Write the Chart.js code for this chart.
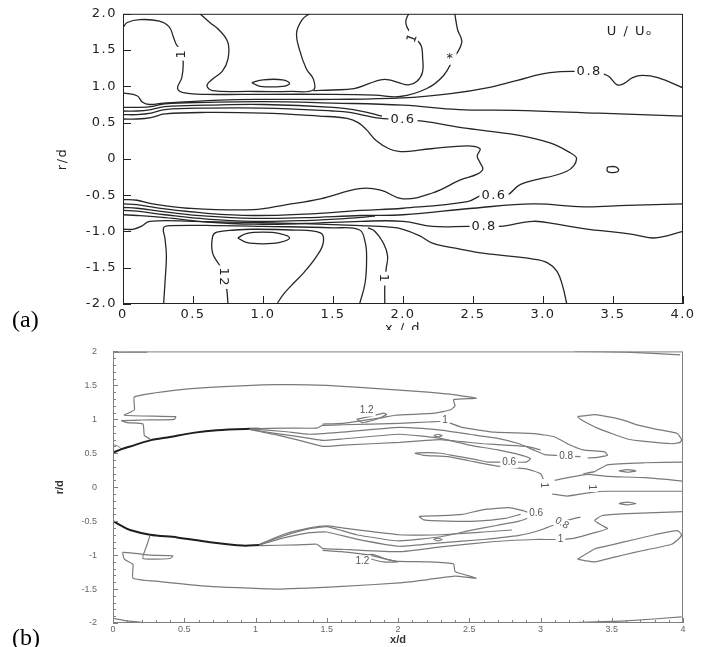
<!DOCTYPE html>
<html>
<head>
<meta charset="utf-8" />
<title>U/Uo contours</title>
<style>
  html, body { margin: 0; padding: 0; background: #fff; }
  #page { position: relative; width: 706px; height: 647px; overflow: hidden; }
  canvas { position: absolute; left: 0; }
  #chartA { top: 0; }
  #chartB { top: 330px; }
  .tag { position: absolute; left: 12px; font-family: "Liberation Serif", serif; font-size: 24px; line-height: 24px; color: #000; }
</style>
</head>
<body>
<div id="page">
  <canvas id="chartA" width="706" height="330"></canvas>
  <canvas id="chartB" width="706" height="317"></canvas>
  <div class="tag" style="top:307px">(a)</div>
  <div class="tag" style="top:625px">(b)</div>
</div>

<script src="https://cdn.jsdelivr.net/npm/chart.js"></script>
<script>
// ---- panel (a): measured U/Uo contours, points are [x/d, r/d]
const aOneUpper = [[0,1.81],[0.03,1.88],[0.12,1.92],[0.26,1.9],[0.33,1.82],[0.36,1.68],[0.38,1.58],[0.42,1.47],[0.43,1.3],[0.42,1.12],[0.39,0.97],[0.44,0.91],[0.6,0.89],[1.0,0.89],[1.5,0.89],[1.8,0.88],[1.98,0.86],[2.17,0.97],[2.29,1.15],[2.36,1.38],[2.42,1.61],[2.39,1.78],[2.37,2.0]];
const aOneRight = [[2.04,2.0],[2.02,1.9],[2.03,1.81],[2.08,1.68],[2.13,1.56],[2.14,1.4],[2.14,1.2],[2.1,1.07],[2.04,1.02],[1.97,1.05],[1.9,1.09],[1.84,1.09],[1.76,1.04],[1.65,0.97],[1.5,0.95],[1.36,0.94]];
const aTwelveUpper = [[0.55,2.0],[0.62,1.88],[0.69,1.77],[0.75,1.6],[0.75,1.38],[0.71,1.21],[0.64,1.1],[0.6,1.01],[0.64,0.94],[0.9,0.93],[1.2,0.93],[1.36,0.95],[1.36,1.1],[1.31,1.24],[1.26,1.51],[1.24,1.74],[1.28,1.92],[1.33,2.0]];
const aLoopUpper = [[0.92,1.05],[1.0,1.09],[1.14,1.09],[1.19,1.04],[1.14,1.0],[0.98,1.0],[0.92,1.05]];
const aLineA = [[0,0.91],[0.1,0.87],[0.14,0.78],[0.19,0.75],[0.29,0.77],[0.69,0.81],[1.0,0.82],[1.5,0.82],[2.0,0.84],[2.34,0.9],[2.6,0.98],[2.81,1.08],[3.05,1.19],[3.33,1.2],[3.46,1.15],[3.53,1.02],[3.58,1.04],[3.64,1.12],[3.71,1.15],[3.82,1.12],[4.0,0.98]];
const aLineB = [[0,0.71],[0.1,0.71],[0.2,0.72],[0.3,0.76],[0.6,0.78],[1.0,0.79],[1.5,0.77],[2.0,0.74],[2.4,0.68],[2.8,0.67],[3.4,0.63],[4.0,0.59]];
const aLineB2 = [[0,0.66],[0.1,0.66],[0.2,0.68],[0.3,0.72],[0.6,0.74],[1.0,0.75],[1.5,0.71],[1.7,0.66],[1.85,0.59]];
const aLineC = [[0,0.61],[0.1,0.61],[0.2,0.63],[0.3,0.68],[0.6,0.7],[1.0,0.7],[1.5,0.66],[1.62,0.64],[1.8,0.57],[2.0,0.54],[2.14,0.52],[2.46,0.42],[2.81,0.33],[3.05,0.22],[3.18,0.1],[3.24,0.0],[3.17,-0.17],[2.84,-0.35],[2.74,-0.5],[2.57,-0.5],[2.46,-0.59],[2.0,-0.68],[1.7,-0.71],[1.3,-0.76],[0.93,-0.78],[0.6,-0.75],[0.3,-0.69],[0.1,-0.63],[0,-0.62]];
const aInner = [[0,0.55],[0.1,0.55],[0.2,0.57],[0.3,0.62],[0.6,0.64],[1.0,0.63],[1.4,0.59],[1.6,0.56],[1.68,0.5],[1.74,0.4],[1.81,0.25],[1.9,0.14],[1.98,0.1],[2.2,0.14],[2.46,0.18],[2.55,0.14],[2.53,0.04],[2.55,-0.05],[2.57,-0.14],[2.53,-0.21],[2.41,-0.29],[2.21,-0.47],[2.0,-0.55],[1.84,-0.43],[1.69,-0.41],[1.41,-0.55],[1.17,-0.63],[0.93,-0.7],[0.46,-0.68],[0.21,-0.62],[0.1,-0.57],[0,-0.56]];
const aLineBLow = [[0,-0.67],[0.1,-0.68],[0.3,-0.73],[0.6,-0.79],[0.93,-0.82],[1.3,-0.81],[1.7,-0.78],[2.0,-0.77],[2.5,-0.68],[2.93,-0.62],[3.29,-0.66],[3.6,-0.64],[4.0,-0.62]];
const aLineB2Low = [[0,-0.71],[0.1,-0.72],[0.3,-0.77],[0.6,-0.83],[0.93,-0.86],[1.3,-0.85],[1.6,-0.82],[1.8,-0.79]];
const aLineALow = [[0,-0.77],[0.1,-0.78],[0.3,-0.81],[0.6,-0.87],[0.93,-0.9],[1.3,-0.89],[1.7,-0.86],[2.0,-0.86],[2.21,-0.93],[2.46,-0.93],[2.69,-0.93],[2.93,-0.86],[3.1,-0.9],[3.29,-0.96],[3.64,-1.04],[3.79,-1.09],[4.0,-1.0]];
const aLineD = [[0,-0.97],[0.07,-0.97],[0.13,-0.93],[0.19,-0.86],[0.5,-0.86],[1.0,-0.88],[1.4,-0.9],[1.7,-0.92],[1.9,-0.94],[2.0,-0.97],[2.12,-1.06],[2.21,-1.16],[2.4,-1.24],[2.57,-1.3],[2.93,-1.38],[3.03,-1.43],[3.1,-1.55],[3.14,-1.75],[3.17,-2.0]];
const aOneLower = [[0.29,-2.0],[0.3,-1.7],[0.31,-1.34],[0.3,-1.1],[0.29,-0.95],[0.34,-0.92],[0.7,-0.92],[1.0,-0.93],[1.5,-0.95],[1.69,-0.98],[1.73,-1.15],[1.74,-1.34],[1.73,-1.7],[1.69,-2.0]];
const aOneLower2 = [[1.75,-0.95],[1.8,-1.0],[1.86,-1.16],[1.89,-1.34],[1.88,-1.51],[1.87,-1.75],[1.87,-2.0]];
const aTwelveLower = [[0.75,-2.0],[0.74,-1.78],[0.72,-1.63],[0.69,-1.47],[0.64,-1.3],[0.64,-1.07],[0.67,-1.01],[0.8,-0.98],[0.93,-0.97],[1.2,-0.98],[1.41,-1.02],[1.43,-1.16],[1.38,-1.35],[1.29,-1.57],[1.2,-1.75],[1.14,-1.88],[1.1,-2.0]];
const aLoopLower = [[0.82,-1.09],[0.88,-1.03],[1.0,-1.01],[1.12,-1.03],[1.19,-1.09],[1.12,-1.15],[1.0,-1.17],[0.88,-1.15],[0.82,-1.09]];
const aSpot = [[3.46,-0.11],[3.52,-0.11],[3.54,-0.16],[3.5,-0.19],[3.46,-0.17],[3.46,-0.11]];

const aLabelText = ['1', '1', '*', '0.8', '0.6', '0.6', '0.8', '12', '1', 'U / Uₒ'];
const aLabelX = [0.42, 2.07, 2.34, 3.33, 2.0, 2.65, 2.58, 0.72, 1.86, 3.62];
const aLabelY = [1.45, 1.67, 1.38, 1.2, 0.54, -0.5, -0.93, -1.63, -1.65, 1.76];
const aLabelRot = [-90, -70, 0, 0, 0, 0, 0, 90, 90, 0];

const aTicksX = ['0', '0.5', '1.0', '1.5', '2.0', '2.5', '3.0', '3.5', '4.0'];
const aTicksY = ['-2.0', '-1.5', '-1.0', '-0.5', '0', '0.5', '1.0', '1.5', '2.0'];

// ---- panel (b)
const bCornerTL = [[0,1.985],[0.12,1.99],[0.24,1.99]];
const bCornerTR = [[3.24,2.0],[3.6,1.99],[3.98,1.95]];
const bCornerBL = [[0,-1.93],[0.1,-1.97],[0.21,-1.99]];
const bCornerBR = [[3.26,-1.99],[3.6,-1.97],[3.99,-1.91]];
const bOuterUp = [[0.26,0.71],[0.22,0.76],[0.21,0.93],[0.1,0.95],[0.06,0.98],[0.2,0.99],[0.43,1.0],[0.44,1.04],[0.08,1.06],[0.15,1.14],[0.15,1.33],[0.4,1.42],[0.68,1.47],[1.15,1.51],[1.5,1.5],[2.01,1.43],[2.21,1.4],[2.4,1.36],[2.55,1.31],[2.39,1.29],[2.4,1.2],[2.37,1.14],[2.26,1.09],[1.98,1.06],[1.88,1.02],[1.71,0.97],[1.61,0.94],[1.47,0.93]];
const bOuterLo = [[0.26,-0.71],[0.24,-0.84],[0.21,-1.05],[0.4,-1.05],[0.42,-1.01],[0.26,-1.0],[0.07,-0.96],[0.08,-1.06],[0.14,-1.14],[0.14,-1.34],[0.33,-1.39],[0.68,-1.46],[1.15,-1.5],[1.61,-1.46],[2.01,-1.41],[2.21,-1.36],[2.4,-1.31],[2.55,-1.34],[2.4,-1.24],[2.39,-1.13],[2.21,-1.1],[1.98,-1.09],[1.8,-1.0],[1.6,-0.95],[1.47,-0.93]];
const bLoop12Up = [[1.71,1.0],[1.75,0.95],[1.85,1.0],[1.92,1.07],[1.9,1.09],[1.8,1.04],[1.71,1.0]];
const bLoop12Lo = [[1.75,-1.0],[1.82,-0.99],[1.92,-1.06],[2.0,-1.1],[1.9,-1.1],[1.8,-1.05],[1.75,-1.0]];
const bS1Up = [[0.96,0.86],[1.24,0.87],[1.43,0.87],[1.47,0.91],[1.61,0.92],[2.01,0.94],[2.21,0.96],[2.33,0.97],[2.45,0.88],[2.68,0.81],[2.96,0.79],[3.1,0.74],[3.2,0.63],[3.3,0.55],[3.45,0.52],[3.47,0.47],[3.4,0.44],[3.33,0.43]];
const bS2Up = [[0.96,0.86],[1.2,0.82],[1.38,0.78],[1.6,0.81],[2.01,0.88],[2.3,0.84],[2.5,0.78],[2.7,0.72],[2.85,0.64],[2.95,0.55],[3.03,0.48],[3.18,0.46],[3.28,0.45]];
const bS3Up = [[0.96,0.85],[1.15,0.79],[1.38,0.72],[1.47,0.69],[1.61,0.71],[2.01,0.78],[2.3,0.72],[2.5,0.62],[2.7,0.55],[2.85,0.48],[2.93,0.42],[2.9,0.37],[2.78,0.37],[2.63,0.37],[2.54,0.41],[2.4,0.46],[2.3,0.5],[2.2,0.51],[2.12,0.5],[2.18,0.47],[2.35,0.45],[2.5,0.39],[2.7,0.31],[2.9,0.27],[3.0,0.2],[3.02,0.12]];
const bS4Up = [[0.96,0.85],[1.15,0.77],[1.38,0.65],[1.47,0.6],[1.61,0.62],[2.01,0.66],[2.2,0.69],[2.3,0.7],[2.45,0.67],[2.6,0.64],[2.75,0.62],[2.9,0.6],[3.0,0.55]];
const bS1Lo = [[1.03,-0.86],[1.3,-0.85],[1.43,-0.84],[1.47,-0.9],[1.66,-0.92],[2.01,-0.95],[2.3,-0.88],[2.68,-0.8],[2.96,-0.77],[3.14,-0.77],[3.24,-0.75],[3.38,-0.67],[3.47,-0.61],[3.43,-0.56],[3.38,-0.49],[3.43,-0.42],[3.61,-0.39],[4.0,-0.36]];
const bS2Lo = [[1.03,-0.85],[1.19,-0.75],[1.38,-0.67],[1.5,-0.66],[1.7,-0.76],[2.01,-0.87],[2.3,-0.82],[2.6,-0.77],[2.85,-0.71],[3.0,-0.63],[3.1,-0.55],[3.2,-0.48],[3.28,-0.44]];
const bS3Lo = [[1.03,-0.84],[1.19,-0.72],[1.38,-0.61],[1.5,-0.58],[1.61,-0.64],[1.71,-0.7],[2.01,-0.79],[2.3,-0.73],[2.5,-0.64],[2.7,-0.56],[2.85,-0.5],[2.95,-0.42],[2.9,-0.36],[2.78,-0.3],[2.6,-0.33],[2.45,-0.4],[2.3,-0.42],[2.15,-0.43],[2.18,-0.48],[2.35,-0.5],[2.55,-0.5],[2.75,-0.46],[2.86,-0.4]];
const bS4Lo = [[1.03,-0.84],[1.19,-0.7],[1.38,-0.6],[1.5,-0.57],[1.61,-0.6],[2.01,-0.7],[2.3,-0.7],[2.6,-0.66],[2.8,-0.63]];
const bCircUp = [[2.25,0.76],[2.28,0.78],[2.31,0.76],[2.28,0.74],[2.25,0.76]];
const bCircLo = [[2.25,-0.77],[2.28,-0.75],[2.31,-0.77],[2.28,-0.79],[2.25,-0.77]];
const bIslandUp = [[3.26,1.04],[3.38,1.07],[3.52,1.02],[3.61,0.97],[3.66,0.93],[3.8,0.86],[3.96,0.79],[3.99,0.7],[3.98,0.66],[3.92,0.64],[3.75,0.67],[3.61,0.71],[3.4,0.87],[3.28,1.0],[3.26,1.04]];
const bIslandLo = [[3.26,-1.06],[3.38,-0.91],[3.5,-0.85],[3.66,-0.77],[3.8,-0.7],[3.96,-0.64],[3.99,-0.7],[3.97,-0.76],[3.92,-0.84],[3.75,-0.92],[3.66,-0.96],[3.52,-1.03],[3.38,-1.1],[3.26,-1.06]];
const bEllUp = [[3.55,0.24],[3.61,0.26],[3.67,0.24],[3.61,0.22],[3.55,0.24]];
const bEllLo = [[3.55,-0.24],[3.61,-0.22],[3.67,-0.24],[3.61,-0.26],[3.55,-0.24]];
const bRightUp1 = [[4.0,0.37],[3.73,0.36],[3.47,0.33],[3.38,0.23],[3.3,0.2]];
const bRightUp2 = [[4.0,0.09],[3.73,0.14],[3.47,0.16],[3.33,0.19],[3.19,0.14],[3.1,0.1]];
const bRightLo2 = [[3.08,-0.1],[3.19,-0.13],[3.38,-0.07],[3.47,-0.06],[3.73,-0.06],[4.0,-0.06]];
const bLipUp = [[0,0.51],[0.06,0.56],[0.12,0.6],[0.26,0.69],[0.4,0.74],[0.56,0.8],[0.73,0.84],[0.96,0.86],[1.03,0.86]];
const bLipLo = [[0,-0.5],[0.06,-0.57],[0.12,-0.63],[0.26,-0.7],[0.45,-0.74],[0.68,-0.81],[0.91,-0.86],[1.03,-0.85]];
const bNick = [[0,0.63],[0.04,0.6],[0.06,0.56]];

const bLabelText = ['1.2', '1', '0.8', '0.6', '1', '1', '1.2', '0.6', '0.8', '1'];
const bLabelX = [1.78, 2.33, 3.18, 2.78, 3.02, 3.36, 1.75, 2.97, 3.15, 3.14];
const bLabelY = [1.13, 0.98, 0.46, 0.37, 0.03, 0.0, -1.09, -0.39, -0.53, -0.77];
const bLabelRot = [0, 0, 0, 0, 90, 90, 0, 0, 30, 0];

const bTicksX = ['0', '0.5', '1', '1.5', '2', '2.5', '3', '3.5', '4'];
const bTicksY = ['-2', '-1.5', '-1', '-0.5', '0', '0.5', '1', '1.5', '2'];

// ---- helpers
function line(points, color, width, tension) {
  return {
    data: points.map(p => ({ x: p[0], y: p[1] })),
    showLine: true, fill: false, pointRadius: 0,
    borderColor: color, borderWidth: width, tension: tension
  };
}

function onHalf(v) { return Math.abs(v * 2 - Math.round(v * 2)) < 1e-6; }

// frame round the plot area plus ticks pointing inwards
function frameTicks(color, major, minor) {
  return {
    id: 'frameTicks',
    afterDraw(chart) {
      const { ctx, chartArea: a, scales: { x, y } } = chart;
      ctx.save();
      ctx.strokeStyle = color;
      ctx.lineWidth = 1;
      ctx.strokeRect(a.left + 0.5, a.top + 0.5, a.right - a.left - 1, a.bottom - a.top - 1);
      x.ticks.forEach(t => {
        const px = Math.round(x.getPixelForValue(t.value)) + 0.5;
        const len = t.label ? major : minor;
        ctx.beginPath(); ctx.moveTo(px, a.bottom); ctx.lineTo(px, a.bottom - len); ctx.stroke();
      });
      y.ticks.forEach(t => {
        const py = Math.round(y.getPixelForValue(t.value)) + 0.5;
        const len = t.label ? major : minor;
        ctx.beginPath(); ctx.moveTo(a.left, py); ctx.lineTo(a.left + len, py); ctx.stroke();
      });
      ctx.restore();
    }
  };
}

// contour level labels, white box breaks the line under them
function contourLabels(texts, xs, ys, rots, font, color) {
  return {
    id: 'contourLabels',
    afterDatasetsDraw(chart) {
      const { ctx, scales: { x, y } } = chart;
      ctx.save();
      ctx.font = font;
      ctx.textAlign = 'center';
      ctx.textBaseline = 'middle';
      texts.forEach((s, i) => {
        const px = x.getPixelForValue(xs[i]);
        const py = y.getPixelForValue(ys[i]);
        ctx.save();
        ctx.translate(px, py);
        ctx.rotate(rots[i] * Math.PI / 180);
        const w = ctx.measureText(s).width;
        if (!s.startsWith('U')) {
          ctx.fillStyle = '#fff';
          ctx.fillRect(-w / 2 - 2, -6, w + 4, 12);
        }
        ctx.fillStyle = color;
        ctx.fillText(s, 0, 0);
        ctx.restore();
      });
      ctx.restore();
    }
  };
}

const wideText = {
  id: 'wideText',
  beforeDraw(chart) { chart.ctx.letterSpacing = '1.5px'; }
};

// ---- chart (a)
const aFont = { family: 'DejaVu Sans', size: 13 };
const aLines = [aOneUpper, aOneRight, aTwelveUpper, aLoopUpper, aLineA, aLineB, aLineB2, aLineC, aInner,
  aLineBLow, aLineB2Low, aLineALow, aLineD, aOneLower, aOneLower2, aTwelveLower, aLoopLower, aSpot];

new Chart(document.getElementById('chartA'), {
  type: 'scatter',
  data: { datasets: aLines.map(p => line(p, '#262626', 1.3, 0.4)) },
  options: {
    responsive: false, animation: false, events: [],
    layout: { padding: { left: 0, right: 23, top: 9, bottom: 0 } },
    plugins: { legend: { display: false }, tooltip: { enabled: false } },
    scales: {
      x: {
        type: 'linear', min: 0, max: 4,
        afterFit: s => { s.height = 26; },
        grid: { display: false, drawTicks: false }, border: { display: false },
        ticks: {
          stepSize: 0.5, autoSkip: false, maxRotation: 0, padding: 3, color: '#222', font: aFont,
          callback: v => onHalf(v) ? aTicksX[Math.round(v * 2)] : ''
        },
        title: { display: true, text: 'x / d', color: '#222', font: aFont, padding: { top: 0, bottom: -6 } }
      },
      y: {
        type: 'linear', min: -2, max: 2,
        afterFit: s => { s.width = 123; },
        grid: { display: false, drawTicks: false }, border: { display: false },
        ticks: {
          stepSize: 0.5, autoSkip: false, padding: 6, color: '#222', font: aFont,
          callback: v => onHalf(v) ? aTicksY[Math.round((v + 2) * 2)] : ''
        },
        title: { display: true, text: 'r/d', color: '#222', font: aFont, padding: { top: 55, bottom: 0 } }
      }
    }
  },
  plugins: [wideText, contourLabels(aLabelText, aLabelX, aLabelY, aLabelRot, '13px "DejaVu Sans"', '#222'), frameTicks('#222', 8, 0)]
});

// ---- chart (b)
const bLines = [bCornerTL, bCornerTR, bCornerBL, bCornerBR, bOuterUp, bOuterLo, bLoop12Up, bLoop12Lo,
  bS1Up, bS2Up, bS3Up, bS4Up, bS1Lo, bS2Lo, bS3Lo, bS4Lo, bCircUp, bCircLo,
  bIslandUp, bIslandLo, bEllUp, bEllLo, bRightUp1, bRightUp2, bRightLo2];
const bSets = bLines.map(p => line(p, '#7a7a7a', 1.2, 0.15));
bSets.push(line(bLipUp, '#1e1e1e', 2, 0.3), line(bLipLo, '#1e1e1e', 2, 0.3), line(bNick, '#7a7a7a', 1, 0));

new Chart(document.getElementById('chartB'), {
  type: 'scatter',
  data: { datasets: bSets },
  options: {
    responsive: false, animation: false, events: [],
    layout: { padding: { left: 0, right: 23, top: 13, bottom: 0 } },
    plugins: { legend: { display: false }, tooltip: { enabled: false } },
    scales: {
      x: {
        type: 'linear', min: 0, max: 4,
        afterFit: s => { s.height = 24; },
        grid: { display: false, drawTicks: false }, border: { display: false },
        ticks: {
          stepSize: 0.1, autoSkip: false, maxRotation: 0, padding: 1, color: '#666',
          font: { family: 'Liberation Sans', size: 9 },
          callback: v => onHalf(v) ? bTicksX[Math.round(v * 2)] : ''
        },
        title: { display: true, text: 'x/d', color: '#333', font: { family: 'Liberation Sans', size: 11, weight: 'bold' }, padding: { top: 0, bottom: 0 } }
      },
      y: {
        type: 'linear', min: -2, max: 2,
        afterFit: s => { s.width = 113; },
        grid: { display: false, drawTicks: false }, border: { display: false },
        ticks: {
          stepSize: 0.1, autoSkip: false, padding: 16, color: '#666',
          font: { family: 'Liberation Sans', size: 9 },
          callback: v => onHalf(v) ? bTicksY[Math.round((v + 2) * 2)] : ''
        },
        title: { display: true, text: 'r/d', color: '#333', font: { family: 'Liberation Sans', size: 11, weight: 'bold' }, padding: { top: 53, bottom: 0 } }
      }
    }
  },
  plugins: [contourLabels(bLabelText, bLabelX, bLabelY, bLabelRot, '10px "Liberation Sans"', '#555'), frameTicks('#808080', 5, 3)]
});
</script>
</body>
</html>
